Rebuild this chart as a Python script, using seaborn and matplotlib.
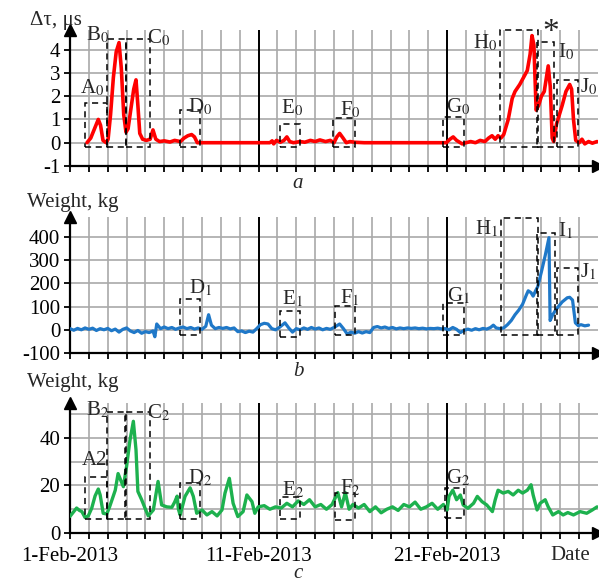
import matplotlib
matplotlib.use("Agg")
import matplotlib.pyplot as plt
import seaborn as sns
import pandas as pd
from matplotlib.patches import Rectangle

sns.set_style("ticks")
SERIF = ['Liberation Serif', 'DejaVu Serif']
plt.rcParams['font.family'] = SERIF
plt.rcParams['font.serif'] = SERIF
plt.rcParams['mathtext.fontset'] = 'stix'

# ---------------- data (x in days since 1-Feb-2013) ----------------
red_day = [0.9, 1.1, 1.3, 1.5, 1.62, 1.75, 1.92, 2.02, 2.15, 2.3, 2.45, 2.6, 2.72, 2.85, 2.97,
           3.08, 3.22, 3.38, 3.5, 3.6, 3.7, 3.85, 4.05, 4.25, 4.4, 4.55, 4.75, 5.0, 5.3, 5.55,
           5.85, 6.05, 6.25, 6.45, 6.6, 6.75, 8.0, 10.6, 10.72, 10.8, 10.95, 11.15, 11.35, 11.5,
           11.65, 11.85, 12.2, 12.45, 12.75, 13.0, 13.25, 13.55, 13.8, 14.0, 14.15, 14.3, 14.48,
           14.65, 14.85, 15.1, 15.6, 19.8, 19.95, 20.15, 20.32, 20.5, 20.8, 21.0, 21.25, 21.5,
           21.75, 22.0, 22.2, 22.38, 22.55, 22.7, 22.85, 23.0, 23.24, 23.45, 23.6, 23.85, 24.05,
           24.25, 24.4, 24.5, 24.6, 24.72, 24.85, 25.0, 25.15, 25.36, 25.47, 25.57, 25.65, 25.8,
           25.95, 26.1, 26.3, 26.5, 26.6, 26.7, 26.82, 27.0, 27.15, 27.3, 27.5, 27.7, 27.95]
red_val = [0.0, 0.2, 0.6, 1.0, 0.75, 0.1, 0.0, 0.15, 1.2, 2.8, 3.9, 4.3, 3.2, 1.2, 0.45,
           0.6, 1.4, 2.3, 2.7, 1.6, 0.4, 0.15, 0.1, 0.15, 0.55, 0.15, 0.05, 0.08, 0.03, 0.1,
           0.05, 0.2, 0.3, 0.35, 0.25, 0.0, 0.0, 0.0, 0.08, -0.05, 0.1, 0.02, 0.1, 0.25,
           0.05, 0.0, 0.05, 0.02, 0.1, 0.05, 0.12, 0.05, 0.1, 0.0, 0.25, 0.4, 0.2,
           0.0, 0.05, 0.02, 0.0, 0.0, 0.0, 0.15, 0.25, 0.1, -0.05, 0.0, 0.05, 0.0,
           0.1, 0.05, 0.2, 0.3, 0.15, 0.3, 0.2, 0.35, 1.0, 1.9, 2.2, 2.5, 2.8,
           3.1, 3.8, 4.6, 4.2, 1.4, 1.6, 2.0, 2.2, 3.3, 2.4, 0.2, 0.05, 0.8,
           1.2, 1.6, 2.2, 2.5, 2.3, 1.0, 0.1, 0.0, 0.15, -0.05, 0.05, -0.02, 0.05]

blue_day = [0.0, 0.2, 0.4, 0.6, 0.8, 1.0, 1.2, 1.4, 1.6, 1.8, 2.0, 2.2, 2.4, 2.6, 2.8, 3.0,
            3.2, 3.4, 3.6, 3.8, 4.0, 4.2, 4.4, 4.5, 4.6, 4.8, 5.0, 5.2, 5.4, 5.6, 5.8, 6.0,
            6.2, 6.4, 6.6, 6.8, 7.0, 7.2, 7.35, 7.5, 7.7, 7.9, 8.1, 8.3, 8.5, 8.7, 8.9, 9.1,
            9.3, 9.5, 9.7, 9.9, 10.1, 10.3, 10.5, 10.7, 10.9, 11.1, 11.4, 11.6, 11.8, 12.0,
            12.2, 12.4, 12.6, 12.8, 13.0, 13.2, 13.4, 13.6, 13.8, 14.0, 14.3, 14.5, 14.7,
            14.9, 15.1, 15.3, 15.5, 15.7, 15.9, 16.1, 16.3, 16.5, 16.7, 16.9, 17.1, 17.3,
            17.5, 17.7, 17.9, 18.1, 18.3, 18.5, 18.7, 18.9, 19.1, 19.3, 19.5, 19.7, 19.9,
            20.1, 20.3, 20.5, 20.7, 20.9, 21.1, 21.3, 21.5, 21.7, 21.9, 22.1, 22.3, 22.45,
            22.6, 22.8, 23.0, 23.2, 23.4, 23.6, 23.8, 24.0, 24.2, 24.3, 24.45, 24.56, 24.7,
            24.8, 25.0, 25.2, 25.4, 25.46, 25.6, 25.73, 25.9, 26.1, 26.37, 26.5, 26.65, 26.8,
            26.95, 27.1, 27.3, 27.5]
blue_val = [5, -2, 6, 0, 8, 2, 7, -3, 5, 0, 6, -4, 3, -10, 2, 8,
            -5, -12, -3, -15, -8, -12, -5, -30, 25, 5, 12, 5, 10, 2, 8, 12,
            5, 10, 3, 8, 2, 15, 65, 20, 5, 10, 6, 10, 4, 8, -8, -5,
            -12, -6, -10, 5, 22, 28, 25, 5, 0, 10, 30, 8, -10, 5,
            0, 8, 2, 10, 3, 8, 0, 6, 2, 10, 25, 5, -18,
            -10, -15, -8, -14, -8, -12, 10, 14, 8, 12, 6, 10, 4,
            8, 5, 8, 6, 8, 5, 7, 4, 6, 5, 7, 4, 5,
            0, 10, 2, -12, -2, 3, -2, 5, 0, 6, 3, 10, 20,
            8, 5, 8, 22, 40, 65, 85, 110, 150, 168, 160, 145, 170,
            185, 250, 320, 397, 40, 65, 82, 100, 120, 138, 140, 128, 30,
            18, 22, 17, 20]

green_day = [0.0, 0.15, 0.35, 0.5, 0.63, 0.8, 0.97, 1.15, 1.33, 1.5, 1.6, 1.76, 1.95, 2.1,
             2.4, 2.55, 2.7, 2.83, 3.0, 3.18, 3.36, 3.5, 3.6, 3.8, 3.98, 4.15, 4.42, 4.67,
             4.86, 5.13, 5.4, 5.55, 5.68, 5.75, 5.84, 6.1, 6.37, 6.54, 6.72, 7.0, 7.26, 7.53,
             7.8, 8.06, 8.22, 8.45, 8.65, 8.9, 9.18, 9.38, 9.65, 9.8, 9.98, 10.3, 10.6,
             10.9, 11.2, 11.5, 11.8, 12.1, 12.4, 12.7, 13.0, 13.3, 13.6, 13.9, 14.2, 14.4,
             14.6, 14.8, 15.0, 15.3, 15.6, 15.9, 16.2, 16.5, 16.8, 17.1, 17.4, 17.7, 18.0,
             18.3, 18.6, 18.9, 19.2, 19.5, 19.8, 20.0, 20.1, 20.3, 20.5, 20.7, 20.85, 21.1,
             21.4, 21.6, 21.85, 22.1, 22.4, 22.55, 22.7, 22.97, 23.24, 23.5, 23.77, 24.0,
             24.25, 24.45, 24.56, 24.77, 24.93, 25.2, 25.36, 25.6, 25.9, 26.15, 26.4, 26.7,
             27.05, 27.4, 27.7, 27.95]
green_val = [7, 8.5, 10.5, 9.5, 9, 6.5, 7.2, 10.4, 15.6, 18.5, 16, 8.3, 8, 11,
             18, 25, 22, 19.5, 28, 39, 47, 35, 17.5, 14, 10.4, 7.2, 9.7, 21.7,
             11.8, 11, 10.8, 13, 15.5, 10, 7.6, 15.4, 19, 15.4, 8.3, 9.7, 7.6, 9,
             7.2, 9.7, 16.8, 23, 12.5, 6.9, 9, 16, 13.2, 8.3, 11, 11.5, 10,
             11, 10.5, 12.5, 11, 13.5, 12, 14, 11, 12, 10, 12, 17, 11,
             17, 10, 12, 10.5, 12, 9, 11, 8.5, 10, 11, 9.5, 12, 11,
             13, 10, 11, 12.5, 10, 12, 9.7, 15.4, 18, 14, 16, 11.8, 10.4,
             12.5, 15.4, 13.2, 11.8, 9, 14, 18, 16.8, 17.5, 16, 18, 16.8,
             18, 20.3, 16, 9.7, 12.5, 14, 11, 7.6, 9, 7.6, 8.6, 7.6,
             9, 8.3, 9.7, 11]

date_ticks = [0, 10, 20]
date_labels = ['1-Feb-2013', '11-Feb-2013', '21-Feb-2013']

# annotation boxes: (label, x0, x1, y0, y1, label_x, label_y)
boxes_a = [("A$_0$", 0.8, 1.96, -0.17, 1.72, 1.2, 2.36),
           ("B$_0$", 1.96, 2.97, -0.17, 4.46, 1.45, 4.63),
           ("C$_0$", 2.97, 4.24, -0.17, 4.46, 4.7, 4.5),
           ("D$_0$", 5.84, 6.9, -0.2, 1.42, 6.9, 1.55),
           ("E$_0$", 11.14, 12.2, -0.2, 0.82, 11.8, 1.5),
           ("F$_0$", 13.95, 15.12, -0.2, 1.07, 14.85, 1.42),
           ("G$_0$", 19.79, 20.9, -0.17, 1.12, 20.6, 1.55),
           ("H$_0$", 22.8, 24.83, -0.17, 4.85, 22.0, 4.3),
           ("I$_0$", 24.77, 25.68, -0.17, 4.33, 26.3, 3.9),
           ("J$_0$", 25.84, 26.95, -0.17, 2.7, 27.5, 2.4)]
boxes_b = [("D$_1$", 5.84, 6.9, -22, 134, 6.9, 181),
           ("E$_1$", 11.14, 12.2, -30, 82, 11.8, 134),
           ("F$_1$", 14.05, 15.12, -22, 103, 14.85, 138),
           ("G$_1$", 19.79, 20.9, -22, 116, 20.6, 147),
           ("H$_1$", 22.86, 24.83, -22, 483, 22.1, 435),
           ("I$_1$", 24.77, 25.73, -22, 418, 26.3, 427),
           ("J$_1$", 25.84, 26.95, -22, 267, 27.5, 250)]
boxes_c = [("A2", 0.8, 1.96, 5.9, 23.6, 1.3, 30.5),
           ("B$_2$", 1.96, 2.97, 5.9, 51, 1.45, 51.8),
           ("C$_2$", 2.92, 4.24, 5.9, 51, 4.7, 50.5),
           ("D$_2$", 5.84, 6.9, 5.9, 21, 6.9, 23),
           ("E$_2$", 11.14, 12.2, 5.9, 15.2, 11.8, 18),
           ("F$_2$", 14.05, 15.12, 5.5, 16.8, 14.85, 19),
           ("G$_2$", 19.9, 20.9, 6.3, 19, 20.6, 23)]

# ---------------- figure ----------------
W, H = 599, 584
fig = plt.figure(figsize=(W / 100, H / 100), dpi=100)


def px_axes(x0, y0, x1, y1):
    return fig.add_axes([x0 / W, 1 - y1 / H, (x1 - x0) / W, (y1 - y0) / H])


FS = 15
GRID = '#a9a9a9'


def style(ax, ylim, yticks, ygrid, show_dates=False):
    ax.set_xlim(0, 28)
    ax.set_ylim(*ylim)
    ax.set_xticks(range(0, 28))
    if show_dates:
        labs = [''] * 28
        for t, l in zip(date_ticks, date_labels):
            labs[t] = l
        ax.set_xticklabels(labs, fontsize=FS, fontfamily=SERIF)
    else:
        ax.set_xticklabels([])
    ax.set_yticks(yticks)
    ax.set_yticklabels([f"{v:g}" for v in yticks], fontsize=FS, fontfamily=SERIF)
    for g in ygrid:
        ax.axhline(g, color=GRID, lw=1.2, zorder=0)
    for d in range(1, 28):
        ax.axvline(d, color=GRID, lw=1.2, zorder=0)
    for d in (10, 20):
        ax.axvline(d, color='black', lw=1.4, zorder=1)
    for s in ('top', 'right'):
        ax.spines[s].set_visible(False)
    for s in ('left', 'bottom'):
        ax.spines[s].set_color('black')
        ax.spines[s].set_linewidth(1.6)
    ax.tick_params(axis='both', direction='out', length=4, width=1.3, color='black',
                   pad=3, labelcolor='black')
    ax.tick_params(axis='x', pad=6)
    ax.plot(1, 0, marker='>', color='black', markersize=9, transform=ax.transAxes,
            clip_on=False, zorder=5)
    ax.plot(0, 1, marker='^', color='black', markersize=9, transform=ax.transAxes,
            clip_on=False, zorder=5)
    ax.set_xlabel('')
    ax.set_ylabel('')


def draw_boxes(ax, boxes):
    for lab, x0, x1, y0, y1, lx, ly in boxes:
        ax.add_patch(Rectangle((x0, y0), x1 - x0, y1 - y0, fill=False, ec='black',
                               lw=1.1, ls=(0, (4, 3)), clip_on=False, zorder=4))
        ax.text(lx, ly, lab, ha='center', va='center', fontsize=FS, fontfamily=SERIF,
                clip_on=False, zorder=6)


ax1 = px_axes(70, 30, 598, 166)
ax2 = px_axes(70, 217, 598, 353)
ax3 = px_axes(70, 403, 598, 533)

df_r = pd.DataFrame({'day': red_day, 'val': red_val})
df_b = pd.DataFrame({'day': blue_day, 'val': blue_val})
df_g = pd.DataFrame({'day': green_day, 'val': green_val})

sns.lineplot(data=df_r, x='day', y='val', ax=ax1, color='#ff0000', lw=2.6,
             estimator=None, sort=False, zorder=3)
sns.lineplot(data=df_b, x='day', y='val', ax=ax2, color='#1f78c8', lw=2.3,
             estimator=None, sort=False, zorder=3)
sns.lineplot(data=df_g, x='day', y='val', ax=ax3, color='#1db14e', lw=2.4,
             estimator=None, sort=False, zorder=3)

style(ax1, (-1, 4.84), [-1, 0, 1, 2, 3, 4], [0, 1, 2, 3, 4])
style(ax2, (-100, 486), [-100, 0, 100, 200, 300, 400], [0, 100, 200, 300, 400])
style(ax3, (0, 54.7), [0, 20, 40], [10, 20, 30, 40, 50], show_dates=True)

draw_boxes(ax1, boxes_a)
draw_boxes(ax2, boxes_b)
draw_boxes(ax3, boxes_c)

ax1.text(25.5, 4.72, '*', ha='center', va='center', fontsize=24, fontfamily=SERIF,
         clip_on=False, zorder=6)

kw = dict(ha='center', va='center', fontsize=FS, fontfamily=SERIF)
fig.text(56 / W, 1 - 20 / H, 'Δτ, μs', **kw)
fig.text(73 / W, 1 - 203 / H, 'Weight, kg', **kw)
fig.text(73 / W, 1 - 383 / H, 'Weight, kg', **kw)
fig.text(570 / W, 1 - 555 / H, 'Date', **kw)
fig.text(298 / W, 1 - 183 / H, 'a', style='italic', **kw)
fig.text(298 / W, 1 - 371 / H, 'b', style='italic', **kw)
fig.text(298 / W, 1 - 574 / H, 'c', style='italic', **kw)

fig.savefig('out.png', dpi=100)
